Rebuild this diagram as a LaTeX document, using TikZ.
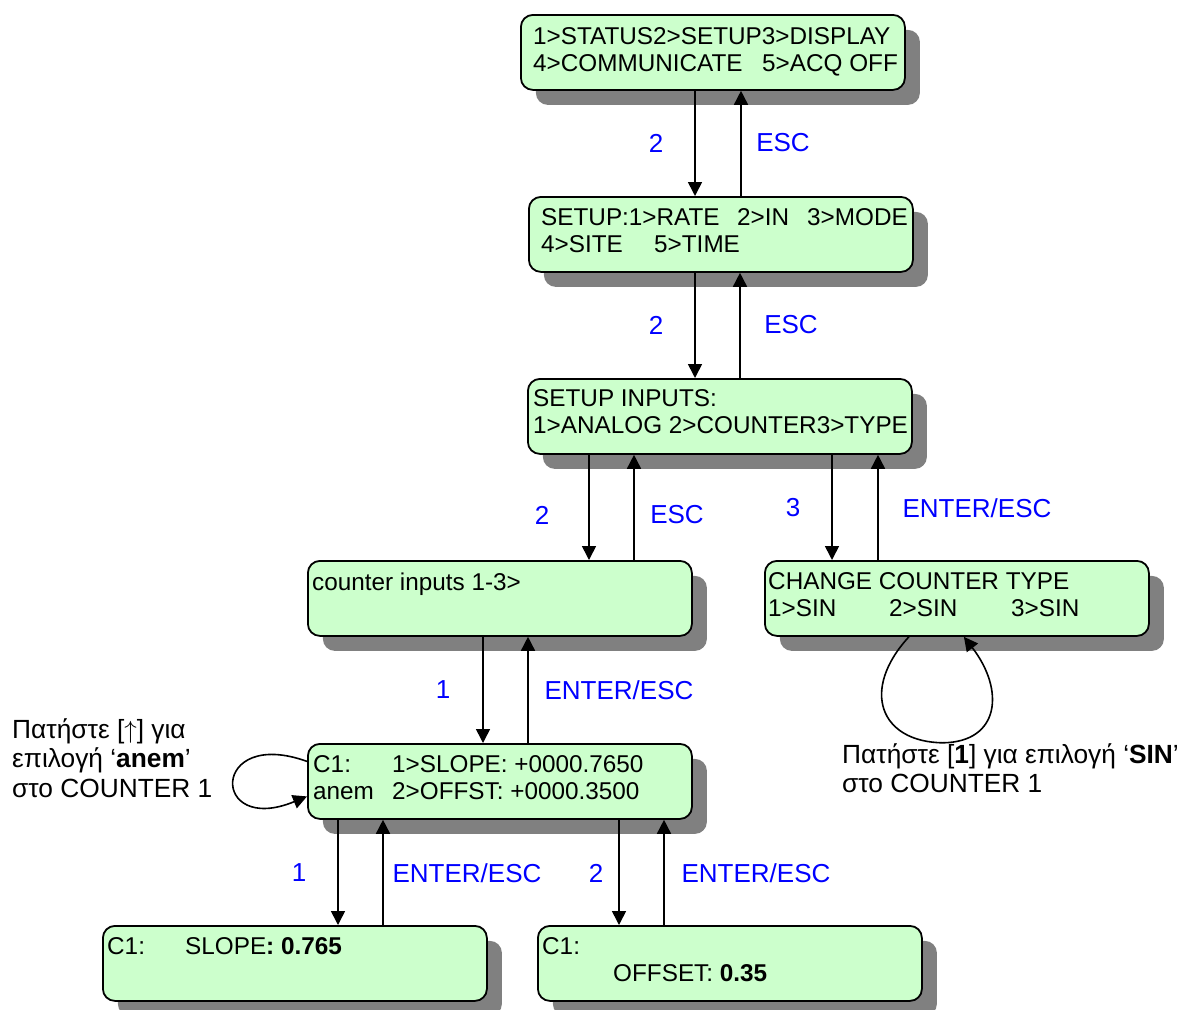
\documentclass[tikz,border=0pt]{standalone}
\usepackage{fontspec}
\setmainfont{Liberation Sans}
\usetikzlibrary{arrows.meta,shadows}
\definecolor{lcdgreen}{RGB}{204,255,204}
\definecolor{shadowgray}{RGB}{128,128,128}
\definecolor{keyblue}{RGB}{0,0,255}
\newcommand\lcdfont{\fontsize{24.3}{27}\selectfont}
\newcommand\keyfont{\fontsize{26}{30}\selectfont}
\newcommand\notefont{\fontsize{26.3}{29.5}\selectfont}

\begin{document}
\begin{tikzpicture}[x=1pt,y=-1pt,
    lcd/.style={draw=black, line width=1.8pt, rounded corners=12pt, fill=lcdgreen,
      minimum width=384pt, minimum height=75pt, inner sep=0pt, anchor=north west,
      drop shadow={shadow xshift=15pt, shadow yshift=-15pt, fill=shadowgray, opacity=1}},
    lcdtext/.style={anchor=north west, inner sep=0pt, align=left, font=\lcdfont},
    key/.style={text=keyblue, inner sep=0pt, font=\keyfont},
    note/.style={anchor=north west, inner sep=0pt, align=left, font=\notefont},
    go/.style={line width=1.6pt, -{Triangle[length=14pt,width=14pt]}}]
  \useasboundingbox (0,0) rectangle (1187,1010);

  % lcd screens
  \node[lcd] (menu) at (520,14) {};
  \node[lcd] (setup) at (528,196) {};
  \node[lcd] (inputs) at (527,378) {};
  \node[lcd] (counters) at (307,560) {};
  \node[lcd] (ctype) at (764,560) {};
  \node[lcd] (cone) at (307,743) {};
  \node[lcd] (slope) at (102,925) {};
  \node[lcd] (offset) at (537,925) {};

  \node[lcdtext] (menutxt) at ([shift={(13,13)}]menu.north west)
    {1>STATUS2>SETUP3>DISPLAY\\ \makebox[229pt][l]{4>COMMUNICATE}5>ACQ OFF};
  \node[lcdtext] (setuptxt) at ([shift={(13,12)}]setup.north west)
    {\makebox[196pt][l]{SETUP:1>RATE}\makebox[70pt][l]{2>IN}3>MODE\\ \makebox[113pt][l]{4>SITE}5>TIME};
  \node[lcdtext] (inputstxt) at ([shift={(6,11)}]inputs.north west)
    {SETUP INPUTS:\\ 1>ANALOG 2>COUNTER3>TYPE};
  \node[lcdtext] (counterstxt) at ([shift={(5,13)}]counters.north west)
    {counter inputs 1-3>};
  \node[lcdtext] (ctypetxt) at ([shift={(4,12)}]ctype.north west)
    {CHANGE COUNTER TYPE\\ \makebox[121pt][l]{1>SIN}\makebox[122pt][l]{2>SIN}3>SIN};
  \node[lcdtext] (conetxt) at ([shift={(6,12)}]cone.north west)
    {\makebox[79pt][l]{C1:}1>SLOPE: +0000.7650\\ \makebox[79pt][l]{anem}2>OFFST: +0000.3500};
  \node[lcdtext] (slopetxt) at ([shift={(5,12)}]slope.north west)
    {\makebox[78pt][l]{C1:}SLOPE\textbf{: 0.765}};
  \node[lcdtext] (offsettxt) at ([shift={(5,12)}]offset.north west)
    {C1:\\ \hspace*{71pt}OFFSET: \textbf{0.35}};

  % key presses
  \draw[go] (menu.south -| 695,0) -- (setup.north -| 695,0);
  \draw[go] (setup.north -| 741,0) -- (menu.south -| 741,0);
  \draw[go] (setup.south -| 695,0) -- (inputs.north -| 695,0);
  \draw[go] (inputs.north -| 740,0) -- (setup.south -| 740,0);
  \draw[go] (inputs.south -| 589,0) -- (counters.north -| 589,0);
  \draw[go] (counters.north -| 634,0) -- (inputs.south -| 634,0);
  \draw[go] (inputs.south -| 832,0) -- (ctype.north -| 832,0);
  \draw[go] (ctype.north -| 878,0) -- (inputs.south -| 878,0);
  \draw[go] (counters.south -| 483,0) -- (cone.north -| 483,0);
  \draw[go] (cone.north -| 528,0) -- (counters.south -| 528,0);
  \draw[go] (cone.south -| 338,0) -- (slope.north -| 338,0);
  \draw[go] (slope.north -| 383,0) -- (cone.south -| 383,0);
  \draw[go] (cone.south -| 619,0) -- (offset.north -| 619,0);
  \draw[go] (offset.north -| 664,0) -- (cone.south -| 664,0);

  \node[key] (k1) at (656,143) {2};
  \node[key] (e1) at (783,143) {ESC};
  \node[key] (k2) at (656,325) {2};
  \node[key] (e2) at (791,325) {ESC};
  \node[key] (k3) at (542,515) {2};
  \node[key] (e3) at (677,515) {ESC};
  \node[key] (k4) at (793,508) {3};
  \node[key] (e4) at (977,508) {ENTER/ESC};
  \node[key] (k5) at (443,690) {1};
  \node[key] (e5) at (619,690) {ENTER/ESC};
  \node[key] (k6) at (299,873) {1};
  \node[key] (e6) at (467,873) {ENTER/ESC};
  \node[key] (k7) at (596,873) {2};
  \node[key] (e7) at (756,873) {ENTER/ESC};

  % self loops
  \draw[go] ([yshift=20pt]cone.west) .. controls +(-97,-35) and +(-97,40) .. ([yshift=-15pt]cone.west);
  \coordinate (typeloop) at ([shift={(-14,106)}]ctype.south);
  \draw[go] ([xshift=-48pt]ctype.south) .. controls (860,690) and (880,742) .. (typeloop)
    .. controls (1000,742) and (1005,690) .. ([xshift=7pt]ctype.south);

  \node[note] (anemnote) at (12,718) {Πατήστε [$\uparrow$] για\\ επιλογή ‘\textbf{anem}’\\ στο COUNTER 1};
  \node[note] (sinnote) at (842,743) {Πατήστε [\textbf{1}] για επιλογή ‘\textbf{SIN}’\\ στο COUNTER 1};
\end{tikzpicture}
\end{document}
